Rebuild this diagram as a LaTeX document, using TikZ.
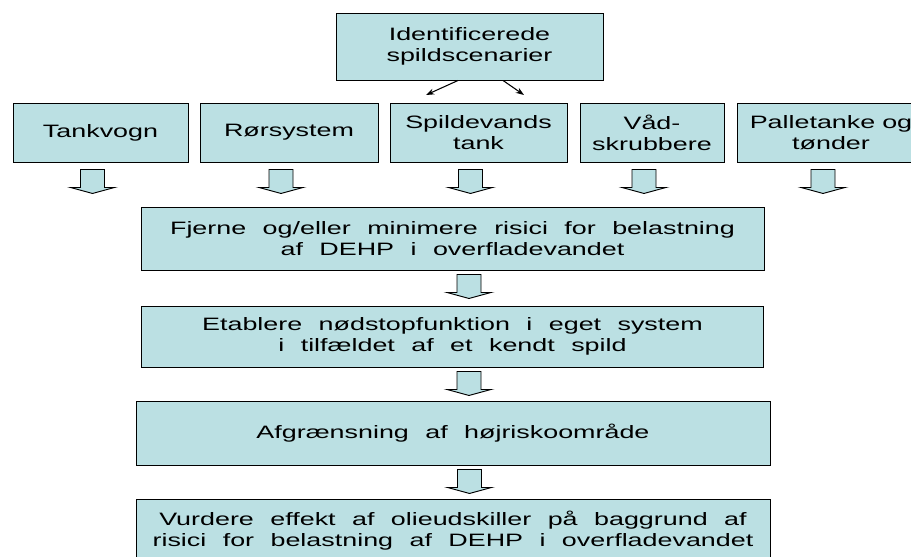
\documentclass[tikz,border=0pt]{standalone}
\usepackage{fontspec}
\setmainfont{Liberation Sans}[FakeStretch=1.5,WordSpace=2.2]
\usepackage{xcolor}
\usetikzlibrary{arrows.meta,calc}

\definecolor{boksblaa}{HTML}{BBE0E3}
\tikzset{
  boks/.style={draw=black,fill=boksblaa,line width=0.8pt,align=center,inner sep=0pt,
    font=\fontsize{15.3}{17.9}\selectfont},
  tynd/.style={line width=0.9pt,-{Stealth[length=7pt,width=5pt]}},
  blokpil/.pic={\draw[fill=boksblaa,line width=0.8pt] (-12,0) -- (12,0) -- (12,18) -- (22,18) -- (0,24) -- (-22,18) -- (-12,18) -- cycle;}
}

\begin{document}
\begin{tikzpicture}[x=0.03cm,y=-0.03cm]
  \useasboundingbox (0,0) rectangle (911,557);
  \clip (0,0) rectangle (911,557);
  % top
  \node[boks,minimum width=8.01cm,minimum height=2.01cm] (scen) at (469.5,46.5) {Identificerede\\spildscenarier};
  % row of sources
  \node[boks,minimum width=5.25cm,minimum height=1.77cm] (tank) at (100.5,132.5) {Tankvogn};
  \node[boks,minimum width=5.34cm,minimum height=1.77cm] (roer) at (289,132.5) {Rørsystem};
  \node[boks,minimum width=5.31cm,minimum height=1.77cm] (spild) at (478.5,132.5) {Spildevands\\tank};
  \node[boks,minimum width=4.32cm,minimum height=1.77cm] (vaad) at (652,132.5) {Våd-\\skrubbere};
  \node[boks,minimum width=5.64cm,minimum height=1.77cm] (palle) at (831,132.5) {Palletanke\hspace{0.21cm}og\\tønder};
  \coordinate (venstre) at (426,95);
  \coordinate (hoejre) at (524,95);
  \draw[tynd] ($(scen.south)+(-11.5,0)$) -- (venstre);
  \draw[tynd] ($(scen.south)+(33.5,0)$) -- (hoejre);
  \foreach \b in {tank,roer,spild,vaad,palle}
    \pic at ($(\b.south)+(-8,7)$) {blokpil};
  % steps
  \node[boks,minimum width=18.69cm,minimum height=1.89cm] (fjerne) at (452.5,238.5) {Fjerne og/eller minimere risici for belastning\\af DEHP i overfladevandet};
  \node[boks,minimum width=18.66cm,minimum height=1.83cm] (etabl) at (452.5,336.5) {Etablere nødstopfunktion i eget system\\i tilfældet af et kendt spild};
  \node[boks,minimum width=19.02cm,minimum height=1.92cm] (afgr) at (453,433) {Afgrænsning af højriskoområde};
  \node[boks,minimum width=19.02cm,minimum height=1.89cm] (vurd) at (453,530.5) {Vurdere effekt af olieudskiller på baggrund af\\risici for belastning af DEHP i overfladevandet};
  \foreach \a in {fjerne,etabl,afgr}
    \pic at ($(\a.south)+(16.5,4)$) {blokpil};
\end{tikzpicture}
\end{document}
